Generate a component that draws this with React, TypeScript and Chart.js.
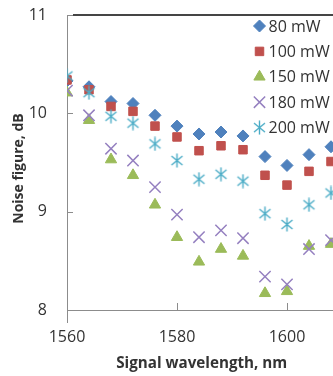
import React, { useEffect, useRef } from 'react';
import { Chart, registerables } from 'chart.js';
import { drawPoint } from 'chart.js/helpers';

Chart.register(...registerables);

const wavelengths = [1560, 1564, 1568, 1572, 1576, 1580, 1584, 1588, 1592, 1596, 1600, 1604, 1608];
const nf80 = [10.33, 10.27, 10.12, 10.1, 9.98, 9.87, 9.79, 9.81, 9.77, 9.56, 9.47, 9.58, 9.66];
const nf100 = [10.34, 10.24, 10.07, 10.02, 9.87, 9.76, 9.62, 9.67, 9.63, 9.37, 9.27, 9.41, 9.51];
const nf150 = [10.21, 9.93, 9.53, 9.37, 9.07, 8.74, 8.49, 8.62, 8.55, 8.17, 8.19, 8.65, 8.67];
const nf180 = [10.23, 9.98, 9.64, 9.52, 9.25, 8.97, 8.74, 8.81, 8.73, 8.34, 8.26, 8.62, 8.71];
const nf200 = [10.38, 10.21, 9.97, 9.9, 9.69, 9.52, 9.33, 9.38, 9.31, 8.98, 8.87, 9.07, 9.19];
const seriesLabels = ['80 mW', '100 mW', '150 mW', '180 mW', '200 mW'];
const seriesColors = ['#4F81BD', '#C0504D', '#9BBB59', '#9580C0', '#4BACC6'];
const xMin = 1560;
const xMax = 1609;
const xStep = 20;
const yMin = 8;
const yMax = 11;
const yStep = 1;

const FONT = '"Open Sans", "Liberation Sans", sans-serif';

function makeAsterisk(color: string): HTMLCanvasElement {
  const c = document.createElement('canvas');
  c.width = 15;
  c.height = 15;
  const g = c.getContext('2d')!;
  g.strokeStyle = color;
  g.lineWidth = 1.4;
  g.beginPath();
  g.moveTo(7.5, 0.5);
  g.lineTo(7.5, 14.5);
  g.moveTo(2, 3);
  g.lineTo(13, 12);
  g.moveTo(13, 3);
  g.lineTo(2, 12);
  g.stroke();
  return c;
}

const innerTicksPlugin = {
  id: 'innerTicks',
  afterLayout(chart: any) {
    // nudge the y-axis title slightly lower, as in the reference
    const ys = chart.scales.y;
    if (ys) ys.bottom += 12;
  },
  afterDraw(chart: any) {
    const { ctx, chartArea } = chart;
    const xs = chart.scales.x;
    const ys = chart.scales.y;
    ctx.save();
    ctx.strokeStyle = '#8c8c8c';
    ctx.lineWidth = 1;
    ctx.beginPath();
    ys.ticks.forEach((t: any) => {
      const py = Math.round(ys.getPixelForValue(t.value)) + 0.5;
      ctx.moveTo(chartArea.left, py);
      ctx.lineTo(chartArea.left + 6, py);
    });
    xs.ticks.forEach((t: any) => {
      const px = Math.round(xs.getPixelForValue(t.value)) + 0.5;
      ctx.moveTo(px, chartArea.bottom);
      ctx.lineTo(px, chartArea.bottom - 7);
    });
    ctx.stroke();
    ctx.fillStyle = '#454545';
    ctx.fillRect(chartArea.left + 6, chartArea.top - 1, chartArea.right - chartArea.left - 6, 2);
    ctx.restore();
  },
};

const legendPlugin = {
  id: 'insideLegend',
  afterDatasetsDraw(chart: any) {
    const { ctx, chartArea } = chart;
    ctx.save();
    ctx.font = '16px ' + FONT;
    ctx.textBaseline = 'middle';
    ctx.textAlign = 'left';
    chart.data.datasets.forEach((ds: any, i: number) => {
      const y = chartArea.top + 11 + i * 25.4;
      const mx = chartArea.right - 77;
      ctx.fillStyle = ds.backgroundColor;
      ctx.strokeStyle = ds.borderColor;
      ctx.lineWidth = ds.pointBorderWidth;
      drawPoint(ctx, {
        pointStyle: ds.pointStyle,
        rotation: 0,
        radius: ds.pointRadius,
        borderWidth: ds.pointBorderWidth,
      } as any, mx, y);
      ctx.fillStyle = '#333333';
      ctx.fillText(ds.label, mx + 9, y + 1);
    });
    ctx.restore();
  },
};

export default function App() {
  const ref = useRef<HTMLCanvasElement>(null);
  useEffect(() => {
    if (!ref.current) return;
    const asterisk = makeAsterisk(seriesColors[4]);
    const all = [nf80, nf100, nf150, nf180, nf200];
    const styles: any[] = ['rectRot', 'rect', 'triangle', 'crossRot', asterisk];
    const radii = [6, 6, 6.5, 8, 7];
    const bws = [1, 1, 1, 1.5, 1];
    const datasets = all.map((vals, i) => ({
      label: seriesLabels[i],
      data: wavelengths.map((w, j) => ({ x: w, y: vals[j] })),
      backgroundColor: seriesColors[i],
      borderColor: seriesColors[i],
      pointStyle: styles[i],
      pointRadius: radii[i],
      pointBorderWidth: bws[i],
      showLine: false,
      order: 5 - i,
    }));
    const chart = new Chart(ref.current, {
      type: 'scatter',
      data: { datasets },
      plugins: [innerTicksPlugin, legendPlugin],
      options: {
        animation: false,
        responsive: false,
        devicePixelRatio: 1,
        layout: { padding: { top: 15, left: 0, right: 0, bottom: 0 } },
        plugins: { legend: { display: false }, tooltip: { enabled: false } },
        scales: {
          x: {
            type: 'linear',
            min: xMin,
            max: xMax,
            afterFit: (s: any) => { s.height = 66; s.paddingLeft = 0; s.paddingRight = 0; },
            ticks: {
              stepSize: xStep,
              includeBounds: false,
              autoSkip: false,
              padding: 18,
              color: '#333333',
              font: { family: FONT, size: 16 },
              callback: (v: any) => String(v),
            },
            grid: { display: false, drawTicks: false },
            border: { display: true, color: '#8c8c8c', width: 1 },
            title: {
              display: true,
              text: 'Signal wavelength, nm',
              color: '#333333',
              font: { family: FONT, size: 15.2, weight: 'bold' },
              padding: { top: 0, bottom: 3 },
            },
          },
          y: {
            type: 'linear',
            min: yMin,
            max: yMax,
            afterFit: (s: any) => { s.width = 67; s.paddingTop = 0; s.paddingBottom = 0; },
            ticks: {
              stepSize: yStep,
              padding: 20,
              color: '#333333',
              font: { family: FONT, size: 16 },
            },
            grid: { display: false, drawTicks: false },
            border: { display: true, color: '#8c8c8c', width: 1 },
            title: {
              display: true,
              text: 'Noise figure, dB',
              color: '#333333',
              font: { family: FONT, size: 14, weight: 'bold' },
              padding: { top: 11, bottom: 0 },
            },
          },
        },
      } as any,
    });
    return () => chart.destroy();
  }, []);
  return (
    <div style={{ position: 'absolute', left: 0, top: 0, width: 333, height: 376, overflow: 'hidden', background: '#fff' }}>
      <canvas ref={ref} width={346} height={376} style={{ width: 346, height: 376, display: 'block' }} />
    </div>
  );
}
